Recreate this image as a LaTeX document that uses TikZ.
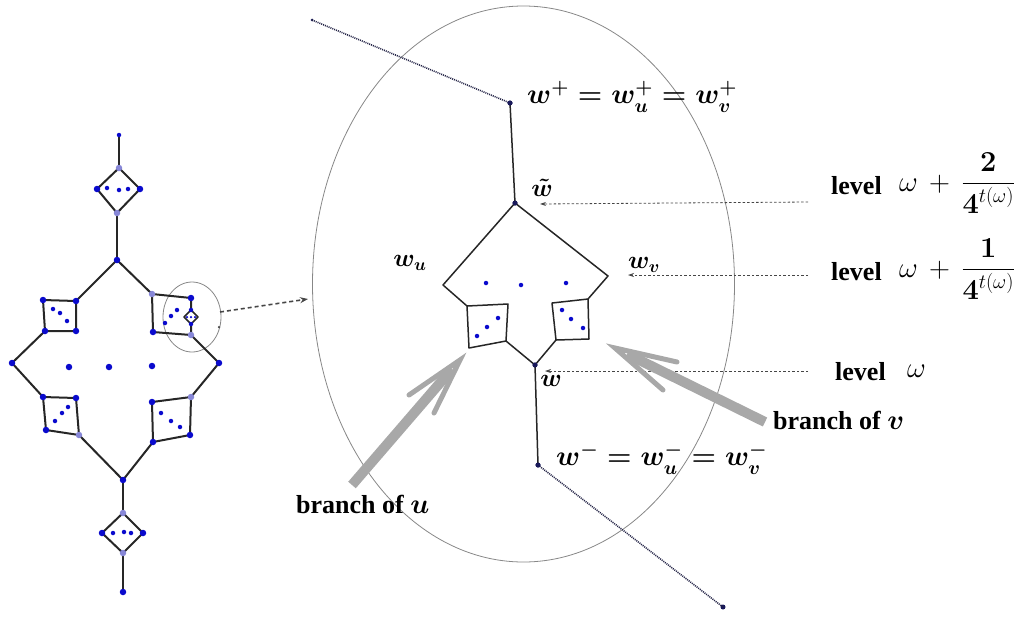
\RequirePackage{fix-cm}
\documentclass[tikz,border=0pt]{standalone}
\usepackage{amsmath,bm}
\usepackage{fontspec}
\setmainfont{Liberation Serif}
\usetikzlibrary{arrows.meta}
\definecolor{dotblue}{RGB}{10,10,205}
\definecolor{lav}{RGB}{135,135,215}
\definecolor{navy}{RGB}{25,25,90}
\definecolor{dotline}{RGB}{35,35,70}
\definecolor{arrgray}{RGB}{168,168,168}
\definecolor{ringgray}{RGB}{135,135,135}
\definecolor{linegray}{RGB}{70,70,70}
\newcommand{\mathsz}{\fontsize{25}{30}\selectfont}
\newcommand{\mathlg}{\fontsize{28}{33}\selectfont}
\newcommand{\textsz}{\fontsize{26}{31}\selectfont\bfseries}
\begin{document}
\begin{tikzpicture}[x=1pt,y=-1pt,
  bd/.style={circle,fill=dotblue,inner sep=0pt,minimum size=6.5pt},
  ld/.style={circle,fill=lav,inner sep=0pt,minimum size=6.5pt},
  sd/.style={circle,fill=dotblue,inner sep=0pt,minimum size=4.5pt},
  td/.style={circle,fill=dotblue,inner sep=0pt,minimum size=2.5pt},
  nd/.style={circle,fill=navy,inner sep=0pt,minimum size=5pt},
  pt/.style={inner sep=0pt,minimum size=0pt},
  ledge/.style={line width=2pt,black!85,line join=round},
  bedge/.style={line width=1.5pt,black!85,line join=round},
  ring/.style={ringgray,line width=0.8pt},
  dots/.style={dotline,line width=1.6pt,dash pattern=on 1pt off 1pt},
  levarrow/.style={linegray,line width=0.8pt,dash pattern=on 2.5pt off 2pt,-{Stealth[length=6pt,width=4pt]}},
  zoomarrow/.style={linegray,line width=1.6pt,dash pattern=on 4pt off 3pt,-{Stealth[length=8pt,width=6pt]}},
  shaft/.style={arrgray,line width=10pt},
  barb/.style={arrgray,line width=5pt,line cap=round},
  mlab/.style={inner sep=0pt,font=\mathsz\boldmath},
  elab/.style={inner sep=0pt,font=\mathlg\boldmath},
  plab/.style={inner sep=0pt,font=\fontsize{29}{34}\selectfont},
  tlab/.style={inner sep=0pt,font=\textsz}]
\useasboundingbox (0,0) rectangle (1030,619);

% ================= left diagram =================
\draw[ring] (192,317) ellipse [x radius=29, y radius=35];

\node[pt] (T0) at (119,135) {};
\node[pt] (D1t) at (119,168) {};
\node[pt] (D1l) at (97,189) {};
\node[pt] (D1r) at (140,189) {};
\node[pt] (D1b) at (117,213) {};
\node[pt] (C1) at (117,260) {};
\node[pt] (A1) at (43,300) {};
\node[pt] (A2) at (76,301) {};
\node[pt] (A3) at (76,331) {};
\node[pt] (A4) at (45,331) {};
\node[pt] (B1) at (152,294) {};
\node[pt] (B2) at (191,298) {};
\node[pt] (B3) at (191,335) {};
\node[pt] (B4) at (153,332) {};
\node[pt] (S1) at (191,310) {};
\node[pt] (S2) at (198,317) {};
\node[pt] (S3) at (191,324) {};
\node[pt] (S4) at (184,317) {};
\node[pt] (L) at (12,363) {};
\node[pt] (R) at (219,363) {};
\node[pt] (E1) at (43,397) {};
\node[pt] (E2) at (76,398) {};
\node[pt] (E3) at (79,435) {};
\node[pt] (E4) at (46,430) {};
\node[pt] (F1) at (152,402) {};
\node[pt] (F2) at (191,397) {};
\node[pt] (F3) at (190,435) {};
\node[pt] (F4) at (153,442) {};
\node[pt] (C2) at (123,480) {};
\node[pt] (D2t) at (123,513) {};
\node[pt] (D2l) at (102,533) {};
\node[pt] (D2r) at (143,533) {};
\node[pt] (D2b) at (123,553) {};
\node[pt] (T1) at (123,592) {};

\draw[ledge] (T0.center) -- (D1t.center);
\draw[ledge] (D1t.center) -- (D1r.center) -- (D1b.center) -- (D1l.center) -- cycle;
\draw[ledge] (D1b.center) -- (C1.center);
\draw[ledge] (C1.center) -- (A2.center);
\draw[ledge] (C1.center) -- (B1.center);
\draw[ledge] (A1.center) -- (A2.center) -- (A3.center) -- (A4.center) -- cycle;
\draw[ledge] (B1.center) -- (B2.center) -- (S1.center);
\draw[ledge] (S3.center) -- (B3.center) -- (B4.center) -- (B1.center);
\draw[ledge,line width=1.6pt] (S1.center) -- (S2.center) -- (S3.center) -- (S4.center) -- cycle;
\draw[ledge] (A4.center) -- (L.center) -- (E1.center);
\draw[ledge] (E1.center) -- (E2.center) -- (E3.center) -- (E4.center) -- cycle;
\draw[ledge] (B3.center) -- (R.center) -- (F2.center);
\draw[ledge] (F1.center) -- (F2.center) -- (F3.center) -- (F4.center) -- cycle;
\draw[ledge] (E3.center) -- (C2.center) -- (F4.center);
\draw[ledge] (C2.center) -- (D2t.center);
\draw[ledge] (D2t.center) -- (D2r.center) -- (D2b.center) -- (D2l.center) -- cycle;
\draw[ledge] (D2b.center) -- (T1.center);

% vertex dots
\foreach \n in {D1l,D1r,C1,A1,A2,A3,A4,B2,B4,L,R,E1,E2,E4,F1,F3,F4,C2,D2l,D2r,T1}
  \node[bd] at (\n) {};
\foreach \n in {D1t,D1b,B1,B3,E3,F2,D2t,D2b}
  \node[ld] at (\n) {};
\node[sd] at (T0) {};
\node[sd] at (S1) {};
\node[sd] at (S3) {};
% inner dots
\foreach \p in {(107,188),(119,190),(128,189),(53,309),(60,313),(67,321),
  (165,323),(171,316),(177,310),(55,421),(62,413),(68,407),
  (161,413),(171,421),(180,427),(113,533),(124,532),(131,533)}
  \node[sd] at \p {};
\foreach \p in {(69,367),(109,367),(152,366)}
  \node[bd] at \p {};
\foreach \p in {(187,317),(191,317),(195,317)}
  \node[td] at \p {};

% zoom arrow
\coordinate (Z0) at (220,312);
\coordinate (Z1) at (308,299);
\draw[zoomarrow] (Z0) -- (Z1);
\node[td,fill=linegray] at (219,327) {};

% ================= right diagram =================
\draw[ring] (523.5,284) ellipse [x radius=211, y radius=278];

\node[nd,minimum size=3pt] (Q0) at (312,20) {};
\node[nd] (P) at (510,103) {};
\node[nd] (Wt) at (515,203) {};
\node[pt] (Wl) at (443,285) {};
\node[pt] (Wr) at (608,276) {};
\node[pt] (U1) at (467,306) {};
\node[pt] (U2) at (508,304) {};
\node[pt] (U3) at (506,341) {};
\node[pt] (U4) at (469,348) {};
\node[pt] (V1) at (552,303) {};
\node[pt] (V2) at (588,299) {};
\node[pt] (V3) at (589,339) {};
\node[pt] (V4) at (556,340) {};
\node[nd] (W) at (535,365) {};
\node[nd] (M) at (538,465) {};
\node[nd] (Q1) at (723,607) {};

\draw[dots] (Q0.center) -- (P.center);
\draw[dots] (M.center) -- (Q1.center);
\draw[bedge] (P.center) -- (Wt.center);
\draw[bedge] (U1.center) -- (Wl.center) -- (Wt.center) -- (Wr.center) -- (V2.center);
\draw[bedge] (U1.center) -- (U2.center) -- (U3.center) -- (U4.center) -- cycle;
\draw[bedge] (V1.center) -- (V2.center) -- (V3.center) -- (V4.center) -- cycle;
\draw[bedge] (U3.center) -- (W.center) -- (V4.center);
\draw[bedge] (W.center) -- (M.center);
\node[nd] at (P) {};
\node[nd] at (Wt) {};
\node[nd] at (W) {};
\node[nd] at (M) {};

\foreach \p in {(486,283),(521,285),(566,283),(477,336),(487,327),(498,318),
  (562,310),(571,319),(583,328)}
  \node[sd] at \p {};

% labels
\node[elab,anchor=west] (lp) at (527,97) {$w^+ = w_u^+ = w_v^+$};
\node[mlab] (lwt) at (542,188) {$\tilde w$};
\node[mlab] (lwu) at (410,263) {$w_u$};
\node[mlab] (lwv) at (644,265) {$w_v$};
\node[mlab] (lw) at (551,381) {$w$};
\node[elab,anchor=west] (lm) at (556,459) {$w^- = w_u^- = w_v^-$};

% level arrows
\coordinate (a1s) at (808,202);
\coordinate (a1e) at (540,204);
\coordinate (a2s) at (808,275);
\coordinate (a2e) at (628,275);
\coordinate (a3s) at (808,371);
\coordinate (a3e) at (545,371);
\draw[levarrow] (a1s) -- (a1e);
\draw[levarrow] (a2s) -- (a2e);
\draw[levarrow] (a3s) -- (a3e);

\node[tlab,anchor=west] (lv1) at (831,186) {level};
\node[plab,anchor=west] (m1) at (899,183) {$\omega \mathbin{\,+\,} \dfrac{\bm{2}}{\bm{4}^{t(\omega)}}$};
\node[tlab,anchor=west] (lv2) at (831,272) {level};
\node[plab,anchor=west] (m2) at (899,269) {$\omega \mathbin{\,+\,} \dfrac{\bm{1}}{\bm{4}^{t(\omega)}}$};
\node[tlab,anchor=west] (lv3) at (835,372) {level};
\node[plab,anchor=west] (m3) at (907,371) {$\omega$};

% branch arrows
\coordinate (bu0) at (352,485);
\coordinate (bu1) at (452,369);
\coordinate (buT) at (460,360);
\coordinate (bua) at (409,395);
\coordinate (bub) at (434,413);
\draw[shaft] (bu0) -- (bu1);
\draw[barb] (bua) -- (buT) -- (bub);

\coordinate (bv0) at (765,422);
\coordinate (bv1) at (627,354);
\coordinate (bvT) at (615,348);
\coordinate (bva) at (677,362);
\coordinate (bvb) at (663,390);
\draw[shaft] (bv0) -- (bv1);
\draw[barb] (bva) -- (bvT) -- (bvb);

\node[tlab,anchor=west] (bul) at (296,504) {branch of {\mathlg\boldmath$u$}};
\node[tlab,anchor=west] (bvl) at (773,420) {branch of {\mathlg\boldmath$v$}};
\end{tikzpicture}
\end{document}
